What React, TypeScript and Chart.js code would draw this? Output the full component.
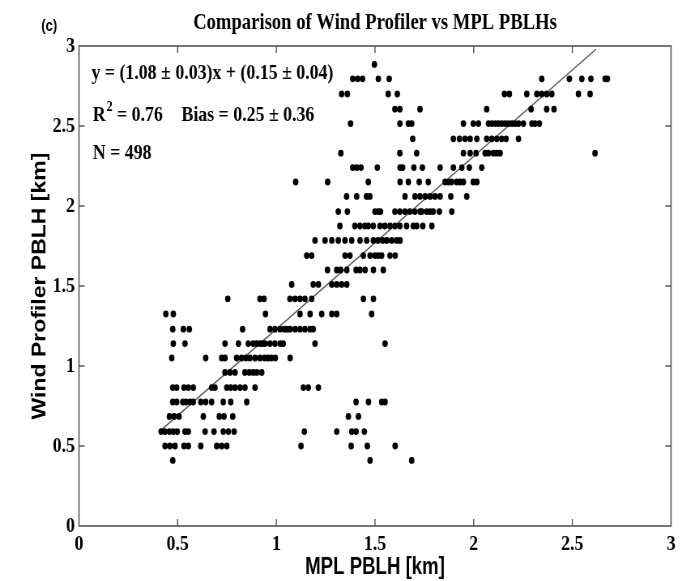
import { useEffect, useRef } from "react";
import { Chart, registerables } from "chart.js";

Chart.register(...registerables);

// Wind profiler PBLH levels (km); the profiler reports heights on fixed range gates
const profilerLevels = [
  0.41, 0.5, 0.59, 0.685, 0.775, 0.865, 0.96, 1.05, 1.14, 1.23, 1.325, 1.42, 1.51, 1.6,
  1.69, 1.785, 1.875, 1.965, 2.06, 2.15, 2.24, 2.33, 2.42, 2.515, 2.605, 2.7, 2.795, 2.885,
];

// MPL PBLH values (km) observed at each profiler level above, in the same order
const mplRows: number[][] = [
  [0.475, 1.475, 1.686],
  [0.436, 0.461, 0.487, 0.532, 0.554, 0.617, 0.698, 0.723, 0.749, 1.125, 1.379, 1.461, 1.602],
  [0.416, 0.436, 0.458, 0.478, 0.498, 0.537, 0.554, 0.639, 0.684, 0.731, 0.757, 0.786, 1.142, 1.306, 1.382, 1.404, 1.446],
  [0.458, 0.482, 0.507, 0.63, 0.711, 0.735, 0.779, 1.365, 1.416],
  [0.475, 0.495, 0.526, 0.542, 0.563, 0.579, 0.617, 0.642, 0.672, 0.731, 0.769, 0.85, 1.404, 1.467, 1.534, 1.551],
  [0.475, 0.495, 0.532, 0.554, 0.579, 0.672, 0.689, 0.749, 0.769, 0.791, 0.816, 0.841, 0.892, 1.137, 1.162, 1.213],
  [0.74, 0.765, 0.791, 0.841, 0.863, 0.883, 0.901, 0.926],
  [0.47, 0.642, 0.723, 0.74, 0.799, 0.824, 0.846, 0.866, 0.892, 0.917, 0.94, 0.958, 0.975, 0.995, 1.07],
  [0.478, 0.537, 0.74, 0.808, 0.858, 0.883, 0.9, 0.917, 0.93, 0.943, 0.968, 0.993, 1.02, 1.035, 1.196, 1.551],
  [0.475, 0.529, 0.559, 0.829, 0.968, 0.993, 1.019, 1.04, 1.053, 1.069, 1.095, 1.12, 1.145, 1.171, 1.187],
  [0.44, 0.478, 0.945, 1.12, 1.171, 1.23, 1.281, 1.306, 1.483],
  [0.754, 0.917, 0.938, 1.069, 1.095, 1.12, 1.145, 1.179, 1.441, 1.492],
  [1.078, 1.187, 1.213, 1.281, 1.306, 1.331, 1.357],
  [1.259, 1.306, 1.326, 1.357, 1.404, 1.424, 1.45, 1.492, 1.542],
  [1.154, 1.179, 1.348, 1.373, 1.441, 1.475, 1.5, 1.517, 1.534, 1.576, 1.602],
  [1.196, 1.247, 1.281, 1.314, 1.348, 1.382, 1.424, 1.458, 1.492, 1.515, 1.539, 1.56, 1.585, 1.61, 1.627],
  [1.322, 1.398, 1.424, 1.449, 1.466, 1.491, 1.525, 1.55, 1.576, 1.601, 1.626, 1.66, 1.694, 1.711, 1.742, 1.788],
  [1.314, 1.36, 1.5, 1.517, 1.528, 1.601, 1.626, 1.652, 1.677, 1.702, 1.728, 1.737, 1.762, 1.779, 1.795, 1.826, 1.889],
  [1.356, 1.407, 1.457, 1.474, 1.652, 1.703, 1.728, 1.754, 1.779, 1.804, 1.83, 1.884, 1.965],
  [1.098, 1.26, 1.466, 1.627, 1.669, 1.724, 1.77, 1.855, 1.872, 1.888, 1.914, 1.93, 1.948, 1.998, 2.016],
  [1.387, 1.407, 1.429, 1.512, 1.627, 1.64, 1.697, 1.74, 1.83, 1.897, 1.94, 1.978, 2.041],
  [1.327, 1.626, 1.711, 1.948, 1.982, 2.012, 2.058, 2.075, 2.1, 2.117, 2.134, 2.615],
  [1.691, 1.897, 1.928, 1.956, 1.982, 2.016, 2.066, 2.092, 2.117, 2.142, 2.164, 2.227],
  [1.376, 1.626, 1.669, 1.686, 1.948, 1.998, 2.024, 2.075, 2.092, 2.11, 2.126, 2.143, 2.16, 2.177, 2.194, 2.21, 2.227, 2.252, 2.295, 2.311, 2.333],
  [1.601, 1.626, 1.728, 2.066, 2.291, 2.37, 2.407],
  [1.331, 1.36, 1.567, 1.613, 2.156, 2.181, 2.269, 2.32, 2.345, 2.37, 2.396, 2.531, 2.59],
  [1.387, 1.412, 1.437, 1.517, 1.572, 2.345, 2.485, 2.548, 2.594, 2.666, 2.678],
  [1.497],
];

// Linear fit of profiler vs MPL and the MPL range it spans
const fitSlope = 1.08;
const fitIntercept = 0.15;
const fitRange = [0.42, 2.62];

const axisTicks = [0, 0.5, 1, 1.5, 2, 2.5, 3];

const titleText = "Comparison of Wind Profiler vs MPL PBLHs";
const panelLabel = "(c)";
const xTitle = "MPL PBLH [km]";
const yTitle = "Wind Profiler PBLH [km]";
const fitLabel = "y = (1.08 \u00b1 0.03)x + (0.15 \u00b1 0.04)";
const r2Value = " = 0.76";
const biasLabel = "Bias = 0.25 \u00b1 0.36";
const countLabel = "N = 498";

// The figure is laid out on a wider canvas and squeezed horizontally
const SQUEEZE = 0.81;
const CANVAS_W = 841;
const CANVAS_H = 581;

const SERIF = "'Liberation Serif', 'Times New Roman', serif";
const SANS = "'Liberation Sans', Arial, sans-serif";

const framePlugin = {
  id: "matlabFrame",
  afterDraw(chart: any) {
    const { ctx, chartArea: a, scales } = chart;
    ctx.save();
    ctx.strokeStyle = "#555";
    ctx.lineWidth = 1.6;
    ctx.strokeRect(a.left, a.top, a.right - a.left, a.bottom - a.top);
    ctx.lineWidth = 1.4;
    ctx.beginPath();
    axisTicks.forEach((v) => {
      if (v <= 0 || v >= 3) return;
      const px = scales.x.getPixelForValue(v);
      ctx.moveTo(px, a.bottom);
      ctx.lineTo(px, a.bottom - 7);
      ctx.moveTo(px, a.top);
      ctx.lineTo(px, a.top + 7);
      const py = scales.y.getPixelForValue(v);
      ctx.moveTo(a.left, py);
      ctx.lineTo(a.left + 7, py);
      ctx.moveTo(a.right, py);
      ctx.lineTo(a.right - 7, py);
    });
    ctx.stroke();

    ctx.fillStyle = "#000";

    // title, centred over the axes box
    ctx.font = `bold 23px ${SERIF}`;
    ctx.textBaseline = "middle";
    ctx.textAlign = "center";
    ctx.fillText(titleText, (a.left + a.right) / 2, 23);

    // panel letter
    ctx.font = `bold 16px ${SANS}`;
    ctx.textAlign = "left";
    ctx.fillText(panelLabel, 51, 27);

    // fit statistics
    const x0 = a.left + 15.5;
    ctx.textBaseline = "alphabetic";
    ctx.font = `bold 22px ${SERIF}`;
    ctx.fillText(fitLabel, x0, a.top + 33);
    ctx.fillText("R", x0 + 1.5, a.top + 75);
    const rW = ctx.measureText("R").width;
    ctx.font = `bold 15px ${SERIF}`;
    ctx.fillText("2", x0 + 1.5 + rW + 1, a.top + 65);
    const sW = ctx.measureText("2").width;
    ctx.font = `bold 22px ${SERIF}`;
    ctx.fillText(r2Value, x0 + 1.5 + rW + sW + 1, a.top + 75);
    ctx.fillText(biasLabel, x0 + 111, a.top + 75);
    ctx.fillText(countLabel, x0 + 1.5, a.top + 113);
    ctx.restore();
  },
};

export default function App() {
  const canvasRef = useRef<HTMLCanvasElement | null>(null);

  useEffect(() => {
    const canvas = canvasRef.current;
    if (!canvas) return;

    const points = profilerLevels.flatMap((y, i) => mplRows[i].map((x) => ({ x, y })));
    const fitLine = fitRange.map((x) => ({ x, y: fitSlope * x + fitIntercept }));

    const tickFont = { family: SERIF, size: 22, weight: "bold" as const };
    const tickLabel = (v: number | string) => String(v);

    const chart = new Chart(canvas, {
      type: "scatter",
      data: {
        datasets: [
          {
            label: "PBLH",
            data: points,
            backgroundColor: "#000",
            borderWidth: 0,
            pointRadius: 3.4,
            pointStyle: "circle",
          },
          {
            type: "line",
            label: "fit",
            data: fitLine,
            borderColor: "#555",
            borderWidth: 1.4,
            pointRadius: 0,
            fill: false,
          } as any,
        ],
      },
      options: {
        responsive: false,
        animation: false,
        devicePixelRatio: 1,
        layout: { autoPadding: false, padding: { top: 46, right: 12.6, bottom: 0, left: 0 } },
        plugins: {
          legend: { display: false },
          tooltip: { enabled: false },
          title: { display: false },
        },
        scales: {
          x: {
            type: "linear",
            min: 0,
            max: 3,
            grid: { display: false, drawTicks: false },
            border: { display: false },
            afterBuildTicks: (s: any) => {
              s.ticks = axisTicks.map((value) => ({ value }));
            },
            afterFit: (s: any) => {
              s.height = 55;
            },
            ticks: { color: "#000", font: tickFont, padding: 5, maxRotation: 0, callback: tickLabel },
            title: {
              display: true,
              text: xTitle,
              color: "#000",
              font: { family: SANS, size: 23, weight: "bold", lineHeight: 1.2 },
              padding: { top: 0, bottom: 0 },
            },
          },
          y: {
            type: "linear",
            min: 0,
            max: 3,
            grid: { display: false, drawTicks: false },
            border: { display: false },
            afterBuildTicks: (s: any) => {
              s.ticks = axisTicks.map((value) => ({ value }));
            },
            afterFit: (s: any) => {
              s.width = 97.5;
            },
            ticks: { color: "#000", font: tickFont, padding: 5, callback: tickLabel },
            title: {
              display: true,
              text: yTitle,
              color: "#000",
              font: { family: SANS, size: 23, weight: "bold", lineHeight: 1.2 },
              padding: { top: 36, bottom: 0 },
            },
          },
        },
      },
      plugins: [framePlugin],
    });

    return () => chart.destroy();
  }, []);

  return (
    <div
      style={{
        position: "fixed",
        left: 0,
        top: 0,
        width: 681,
        height: 581,
        overflow: "hidden",
        background: "#fff",
      }}
    >
      <div
        style={{
          width: CANVAS_W,
          height: CANVAS_H,
          transform: `scaleX(${SQUEEZE})`,
          transformOrigin: "0 0",
        }}
      >
        <canvas ref={canvasRef} width={CANVAS_W} height={CANVAS_H} style={{ display: "block" }} />
      </div>
    </div>
  );
}
